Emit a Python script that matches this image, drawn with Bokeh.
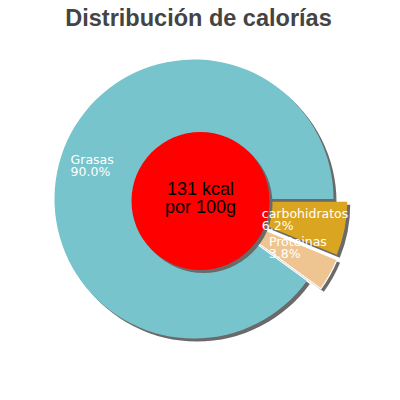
import numpy as np
from bokeh.plotting import figure
from bokeh.models import Range1d
from bokeh.core.properties import value
from bokeh.embed import file_html
from bokeh.resources import INLINE

# ---- data ----
title_text = "Distribución de calorías"
categories = ["Grasas", "carbohidratos", "Proteinas"]
percent = [90.0, 6.2, 3.8]
colors = ["#77C4CC", "#DAA520", "#EEC591"]
kcal = 131
center_lines = [f"{kcal} kcal", "por 100g"]

# ---- layout ----
W = H = 384
TEXT_DY = 8
def px(x):
    return x
def py(y):
    return H - y
def ty(y):
    return H - y + TEXT_DY

cx, cy, R = px(193.5), py(198.5), 139.5
explode = [0, 14, 16]           # per slice, px
label_frac = [0.93, 0.395, 0.50]
order = [1, 2, 0]               # clockwise from 3 o'clock
shadow_dx, shadow_dy = 3, -3
shadow_color = "#6a6a6a"
hole_x, hole_y, hole_r = px(200), py(200.5), 69

p = figure(width=W, height=H, x_range=Range1d(0, W), y_range=Range1d(0, H),
           x_axis_type=None, y_axis_type=None, toolbar_location=None,
           output_backend="svg", min_border=0, outline_line_color=None)
p.background_fill_color = "white"
p.border_fill_color = "white"

xs, ys, starts, ends, mids, cols, lalpha = [], [], [], [], [], [], []
acc = 0.0
for i in order:
    frac = percent[i] / 100.0 * 2 * np.pi
    a0 = -(acc + frac)
    a1 = -acc
    mid = (a0 + a1) / 2
    acc += frac
    xs.append(cx + explode[i] * np.cos(mid))
    ys.append(cy + explode[i] * np.sin(mid))
    starts.append(a0)
    ends.append(a1)
    mids.append(mid)
    cols.append(colors[i])
    lalpha.append(1.0 if i == 2 else 0.0)

# shadows
p.wedge(x=[x + shadow_dx for x in xs], y=[y + shadow_dy for y in ys], radius=R,
        start_angle=starts, end_angle=ends, direction="anticlock",
        fill_color=shadow_color, line_color=None)
# slices
p.wedge(x=xs, y=ys, radius=R, start_angle=starts, end_angle=ends,
        direction="anticlock", fill_color=cols, line_color="white",
        line_alpha=lalpha, line_width=1.2)

# centre hole
p.circle(x=[hole_x + shadow_dx], y=[hole_y + shadow_dy], radius=hole_r,
         fill_color=shadow_color, line_color=None)
p.circle(x=[hole_x], y=[hole_y], radius=hole_r, fill_color="#FF0000", line_color=None)

p.text(x=[px(200)] * 2, y=[ty(196), ty(214)], text=center_lines,
       text_font=value("Liberation Sans"), text_font_size="18px",
       text_color="black", text_align="center", text_baseline="alphabetic")

# slice labels
names, pcts, lx, ly1, ly2 = [], [], [], [], []
for k, i in enumerate(order):
    d = label_frac[i] * R
    tx = xs[k] + d * np.cos(mids[k])
    tyy = ys[k] + d * np.sin(mids[k]) + TEXT_DY
    names.append(categories[i])
    pcts.append(f"{percent[i]:.1f}%")
    lx.append(tx)
    ly1.append(tyy - 9)
    ly2.append(tyy - 21)
p.text(x=lx, y=ly1, text=names, text_font=value("DejaVu Sans"),
       text_font_size="12.5px", text_color="white", text_align="left",
       text_baseline="alphabetic")
p.text(x=lx, y=ly2, text=pcts, text_font=value("DejaVu Sans"),
       text_font_size="12.5px", text_color="white", text_align="left",
       text_baseline="alphabetic")

# title
p.text(x=[px(198)], y=[ty(25)], text=[title_text],
       text_font=value("Liberation Sans"), text_font_size="23.5px",
       text_font_style="bold", text_color="#444444", text_align="center",
       text_baseline="alphabetic")

open("out.html", "w").write(file_html(p, INLINE))
